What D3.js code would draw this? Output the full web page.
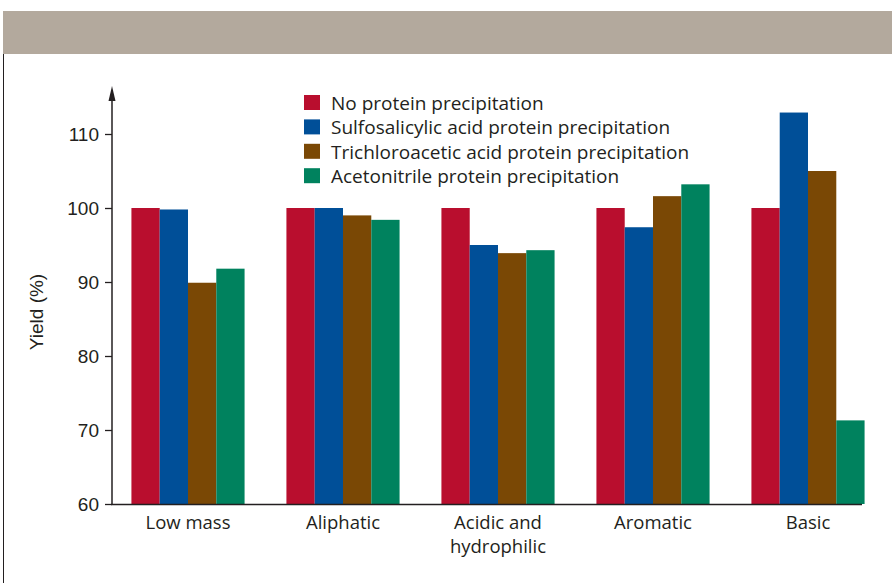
<!DOCTYPE html>
<html>
<head>
<meta charset="utf-8">
<script src="https://cdnjs.cloudflare.com/ajax/libs/d3/7.8.5/d3.min.js"></script>
<style>
  body { margin: 0; background: #fff; }
  svg text { font-family: "Open Sans", "Noto Sans", sans-serif; fill: #231f20; }
  svg text.arial { font-family: "Liberation Sans", Arial, sans-serif; }
</style>
</head>
<body>
<div id="chart"></div>
<script>
// data
const categories = ['Low mass', 'Aliphatic', 'Acidic and\nhydrophilic', 'Aromatic', 'Basic'];
const seriesNames = [
  'No protein precipitation',
  'Sulfosalicylic acid protein precipitation',
  'Trichloroacetic acid protein precipitation',
  'Acetonitrile protein precipitation'
];
const noPrecip = [100, 100, 100, 100, 100];
const sulfosalicylic = [99.8, 100, 95, 97.4, 112.9];
const trichloroacetic = [89.9, 99, 93.9, 101.6, 105];
const acetonitrile = [91.8, 98.4, 94.3, 103.2, 71.3];
const yTicks = [60, 70, 80, 90, 100, 110];

const colors = ['#b90e2e', '#004f98', '#7a4805', '#00825e'];
const series = [noPrecip, sulfosalicylic, trichloroacetic, acetonitrile];

const width = 892, height = 583;
const svg = d3.select('#chart').append('svg')
  .attr('width', width)
  .attr('height', height);

// header band + left rule
svg.append('rect').attr('x', 3).attr('y', 11).attr('width', width - 3).attr('height', 43).attr('fill', '#b3a99d');
svg.append('line').attr('x1', 3.5).attr('x2', 3.5).attr('y1', 54).attr('y2', height).attr('stroke', '#231f20').attr('stroke-width', 1);

const x0 = d3.scaleBand().domain(d3.range(categories.length)).range([110.5, 885.5]).paddingInner(0.27).paddingOuter(0.135);
const x1 = d3.scaleBand().domain(d3.range(series.length)).range([0, x0.bandwidth()]);
const y = d3.scaleLinear().domain([60, 110]).range([504, 134]);

const groups = svg.append('g').selectAll('g')
  .data(categories)
  .join('g')
  .attr('transform', (d, i) => 'translate(' + x0(i) + ',0)');

groups.selectAll('rect')
  .data((d, i) => series.map((s, j) => ({ j: j, v: s[i] })))
  .join('rect')
  .attr('x', d => x1(d.j))
  .attr('y', d => y(d.v))
  .attr('width', x1.bandwidth())
  .attr('height', d => y(60) - y(d.v))
  .attr('fill', d => colors[d.j]);

// y axis
const yAxis = svg.append('g')
  .attr('transform', 'translate(112,0)')
  .call(d3.axisLeft(y).tickValues(yTicks).tickSize(7).tickPadding(6));
yAxis.select('.domain').remove();
yAxis.selectAll('.tick line').attr('stroke', '#231f20').attr('stroke-width', 1.3);
yAxis.selectAll('.tick text').attr('class', 'arial').style('font-size', '19px').attr('fill', '#231f20');

svg.append('line').attr('x1', 112).attr('x2', 112).attr('y1', 96).attr('y2', 505)
  .attr('stroke', '#231f20').attr('stroke-width', 1.5);
svg.append('path').attr('d', 'M112,86 L108.5,101 L115.5,101 Z').attr('fill', '#231f20');

// x axis line
svg.append('line').attr('x1', 111).attr('x2', 862).attr('y1', 504.5).attr('y2', 504.5)
  .attr('stroke', '#231f20').attr('stroke-width', 1.5);

// category labels, one text per line
const labelLines = [];
categories.forEach((c, i) => c.split('\n').forEach((l, k) => labelLines.push({ i: i, k: k, text: l })));
svg.append('g').selectAll('text')
  .data(labelLines)
  .join('text')
  .attr('x', d => x0(d.i) + x0.bandwidth() / 2)
  .attr('y', d => 529 + d.k * 24)
  .attr('text-anchor', 'middle')
  .style('font-size', '18.5px')
  .text(d => d.text);

// y label
svg.append('text')
  .attr('class', 'arial')
  .attr('transform', 'translate(43,312) rotate(-90)')
  .attr('text-anchor', 'middle')
  .style('font-size', '19px')
  .text('Yield (%)');

// legend
const legend = svg.append('g').attr('transform', 'translate(304,95)');
const rows = legend.selectAll('g')
  .data(seriesNames)
  .join('g')
  .attr('transform', (d, i) => 'translate(0,' + i * 24.4 + ')');
rows.append('rect').attr('width', 16).attr('height', 15).attr('fill', (d, i) => colors[i]);
rows.append('text').attr('x', 27).attr('y', 15).style('font-size', '19px').text(d => d);
</script>
</body>
</html>
